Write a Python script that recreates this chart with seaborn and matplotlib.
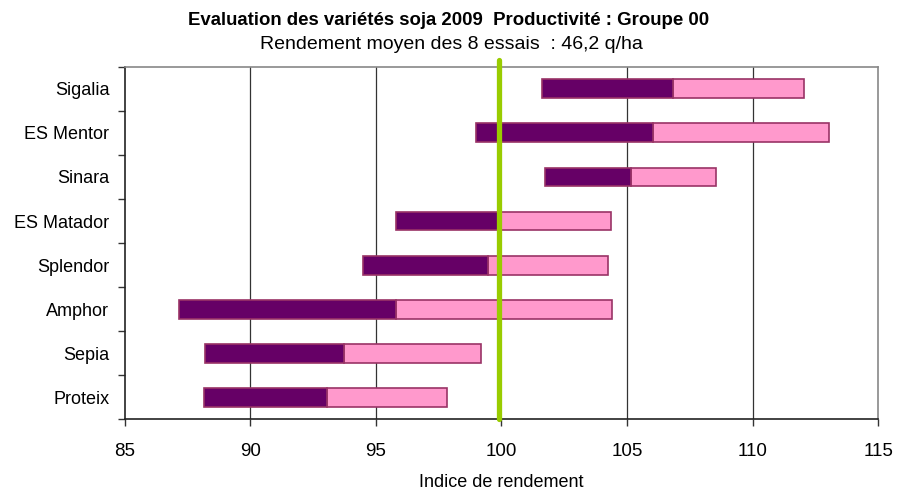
import numpy as np
import pandas as pd
import seaborn as sns
import matplotlib.pyplot as plt
from matplotlib.ticker import MultipleLocator, FixedLocator

# indices de rendement
varietes = ["Sigalia", "ES Mentor", "Sinara", "ES Matador", "Splendor", "Amphor", "Sepia", "Proteix"]
indice_min = [101.6, 99.0, 101.75, 95.8, 94.5, 87.15, 88.2, 88.15]
indice_moy = [106.85, 106.05, 105.15, 100.0, 99.45, 95.8, 93.75, 93.05]
indice_max = [112.05, 113.05, 108.55, 104.35, 104.25, 104.4, 99.2, 97.85]
moyenne_ref = 99.9

df = pd.DataFrame({"variete": varietes, "min": indice_min, "moy": indice_moy, "max": indice_max})

sns.set_theme(style="white")
plt.rcParams["font.family"] = ["Liberation Sans", "DejaVu Sans"]
plt.rcParams["text.color"] = "black"
plt.rcParams["xtick.color"] = "black"
plt.rcParams["ytick.color"] = "black"
plt.rcParams["axes.labelcolor"] = "black"

fig = plt.figure(figsize=(8.97, 4.92), dpi=100)
ax = fig.add_axes([0.139, 0.148, 0.840, 0.716])

edge = "#993366"
# bar up to max (pink) then up to mean (dark), then cut them to floating bars
sns.barplot(data=df, x="max", y="variete", color="#FF99CC", edgecolor=edge,
            linewidth=1.2, width=0.43, saturation=1, ax=ax)
sns.barplot(data=df, x="moy", y="variete", color="#660066", edgecolor=edge,
            linewidth=1.2, width=0.43, saturation=1, ax=ax)
pink, dark = ax.containers[0], ax.containers[1]
for i in range(len(df)):
    pink[i].set_x(df["moy"][i])
    pink[i].set_width(df["max"][i] - df["moy"][i])
    dark[i].set_x(df["min"][i])
    dark[i].set_width(df["moy"][i] - df["min"][i])

ax.set_xlim(85, 115)
ax.set_ylim(len(df) - 0.5, -0.5)
ax.xaxis.set_major_locator(MultipleLocator(5))
for xv in [90, 95, 105, 110]:
    ax.axvline(xv, color="#333333", lw=0.9, zorder=0)

ax.axvline(moyenne_ref, ymin=0, ymax=1.02, color="#99CC00", lw=3.8, clip_on=False, zorder=5)

# ticks between categories, like Excel
ax.yaxis.set_minor_locator(FixedLocator(np.arange(-0.5, len(df), 1)))
ax.tick_params(axis="y", which="major", length=0, labelsize=13, pad=11)
ax.tick_params(axis="y", which="minor", length=5, width=1, color="#333333", left=True)
ax.tick_params(axis="x", which="major", length=5, width=1, color="#333333", bottom=True,
               labelsize=13.5, pad=12)

for s in ["left", "bottom"]:
    ax.spines[s].set_color("#222222")
    ax.spines[s].set_linewidth(1.2)
for s in ["top", "right"]:
    ax.spines[s].set_color("#888888")
    ax.spines[s].set_linewidth(1.2)

ax.set_ylabel("")
ax.set_xlabel("Indice de rendement", fontsize=13, labelpad=10)

fig.text(0.5, 0.959, "Evaluation des variétés soja 2009  Productivité : Groupe 00",
         ha="center", va="center", fontsize=13.4, fontweight="bold")
fig.text(0.503, 0.909, "Rendement moyen des 8 essais  : 46,2 q/ha",
         ha="center", va="center", fontsize=14)

fig.savefig("out.png", dpi=100)
